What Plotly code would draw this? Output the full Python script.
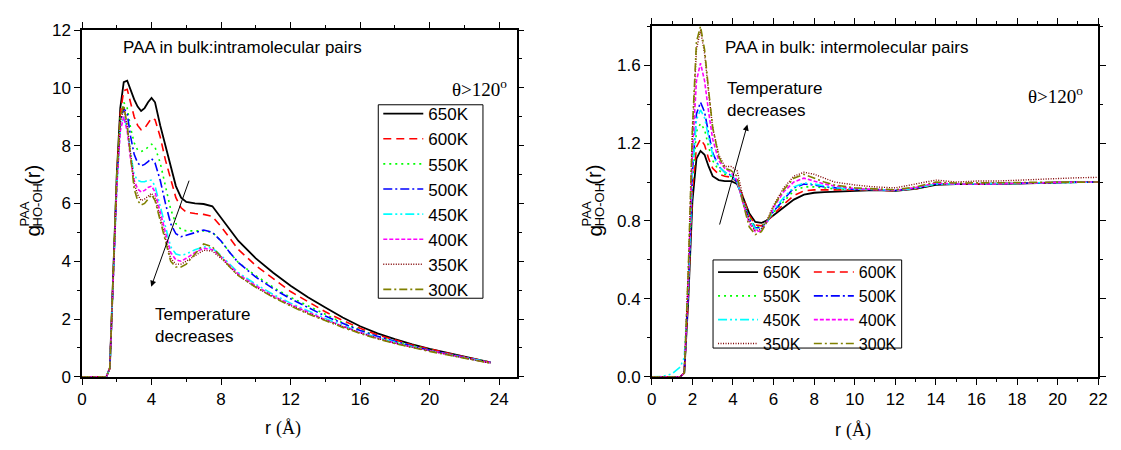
import plotly.graph_objects as go

W, H = 1121, 450

# ---------------- data ----------------
temps = ["650K", "600K", "550K", "500K", "450K", "400K", "350K", "300K"]

r_intra = [0, 1.4, 1.6, 1.8, 2.0, 2.2, 2.4, 2.6, 2.8, 3.0, 3.2, 3.4, 3.6, 3.8, 4.0, 4.2, 4.5, 4.8,
           5.1, 5.4, 5.7, 6.0, 6.5, 7.0, 7.5, 8.0, 8.5, 9.0, 10, 11, 12, 13, 14, 15, 16, 17, 18,
           19, 20, 21, 22, 23, 23.5]

g_intra_650 = [0, 0, 0.3, 3.5, 7.0, 9.3, 10.2, 10.25, 9.9, 9.6, 9.35, 9.2, 9.3, 9.5, 9.65, 9.5, 8.7, 8.0,
               7.2, 6.6, 6.2, 6.05, 6.0, 5.98, 5.9, 5.5, 5.1, 4.7, 4.1, 3.6, 3.15, 2.75, 2.4, 2.05, 1.75, 1.5, 1.3,
               1.12, 0.97, 0.83, 0.7, 0.57, 0.5]
g_intra_600 = [0, 0, 0.3, 3.4, 6.9, 9.1, 9.9, 9.95, 9.5, 9.0, 8.7, 8.55, 8.6, 8.8, 8.95, 8.9, 8.3, 7.5,
               6.8, 6.2, 5.85, 5.7, 5.65, 5.62, 5.55, 5.2, 4.8, 4.4, 3.85, 3.4, 2.95, 2.6, 2.25, 1.95, 1.68, 1.45, 1.27,
               1.1, 0.96, 0.82, 0.69, 0.56, 0.5]
g_intra_550 = [0, 0, 0.3, 3.4, 6.8, 8.9, 9.5, 9.3, 8.6, 8.1, 7.85, 7.8, 7.85, 7.95, 8.05, 7.95, 7.4, 6.6,
               5.8, 5.3, 5.1, 5.05, 5.05, 5.05, 5.0, 4.7, 4.3, 3.95, 3.5, 3.1, 2.75, 2.45, 2.15, 1.87, 1.62, 1.4, 1.22,
               1.07, 0.93, 0.8, 0.67, 0.55, 0.5]
g_intra_500 = [0, 0, 0.3, 3.3, 6.7, 8.8, 9.3, 9.1, 8.3, 7.7, 7.4, 7.3, 7.35, 7.45, 7.55, 7.4, 6.8, 6.0,
               5.3, 4.95, 4.85, 4.9, 5.0, 5.08, 5.0, 4.7, 4.3, 3.95, 3.45, 3.05, 2.7, 2.4, 2.1, 1.85, 1.6, 1.4, 1.22,
               1.06, 0.92, 0.79, 0.67, 0.55, 0.5]
g_intra_450 = [0, 0, 0.3, 3.3, 6.6, 8.6, 9.0, 8.6, 7.7, 7.0, 6.8, 6.75, 6.75, 6.8, 6.8, 6.6, 5.9, 5.1,
               4.5, 4.25, 4.2, 4.25, 4.4, 4.5, 4.45, 4.2, 3.9, 3.6, 3.2, 2.85, 2.55, 2.28, 2.02, 1.78, 1.55, 1.36, 1.19,
               1.04, 0.9, 0.78, 0.66, 0.54, 0.49]
g_intra_400 = [0, 0, 0.3, 3.3, 6.6, 8.5, 9.0, 8.5, 7.5, 6.8, 6.5, 6.4, 6.45, 6.55, 6.6, 6.4, 5.7, 4.9,
               4.3, 4.05, 4.0, 4.1, 4.3, 4.45, 4.4, 4.15, 3.85, 3.55, 3.15, 2.8, 2.5, 2.23, 1.98, 1.75, 1.53, 1.34, 1.17,
               1.03, 0.9, 0.78, 0.66, 0.54, 0.49]
g_intra_350 = [0, 0, 0.3, 3.4, 6.8, 8.8, 9.3, 8.7, 7.6, 6.7, 6.3, 6.1, 6.15, 6.25, 6.35, 6.2, 5.5, 4.7,
               4.1, 3.9, 3.9, 4.0, 4.2, 4.38, 4.35, 4.1, 3.8, 3.5, 3.1, 2.77, 2.47, 2.2, 1.96, 1.73, 1.52, 1.33, 1.16,
               1.02, 0.89, 0.77, 0.65, 0.53, 0.48]
g_intra_300 = [0, 0, 0.3, 3.5, 7.0, 9.0, 9.4, 8.7, 7.5, 6.5, 6.1, 5.95, 6.0, 6.15, 6.3, 6.1, 5.4, 4.6,
               4.0, 3.8, 3.8, 3.9, 4.25, 4.6, 4.5, 4.15, 3.8, 3.5, 3.1, 2.75, 2.45, 2.18, 1.94, 1.71, 1.5, 1.31, 1.15,
               1.01, 0.88, 0.76, 0.64, 0.52, 0.47]

r_inter = [0, 0.5, 1.0, 1.4, 1.6, 1.8, 2.0, 2.2, 2.4, 2.6, 2.8, 3.0, 3.3, 3.6, 3.9, 4.2, 4.5, 4.8, 5.1, 5.4,
           5.7, 6.0, 6.5, 7.0, 7.5, 8.0, 8.5, 9.0, 10, 11, 12, 13, 14, 15, 16, 17, 18, 19, 20, 21, 22]

g_inter_650 = [0, 0, 0, 0, 0.02, 0.4, 0.9, 1.12, 1.16, 1.14, 1.08, 1.03, 1.01, 1.005, 1.005, 0.99, 0.92, 0.84, 0.795, 0.79,
               0.805, 0.83, 0.87, 0.91, 0.935, 0.945, 0.948, 0.95, 0.955, 0.958, 0.955, 0.965, 0.985, 0.99, 0.99, 0.99, 0.992, 0.995, 0.998, 1.0, 1.0]
g_inter_600 = [0, 0, 0, 0, 0.02, 0.42, 0.95, 1.18, 1.22, 1.19, 1.12, 1.07, 1.04, 1.03, 1.025, 1.0, 0.92, 0.83, 0.78, 0.775,
               0.8, 0.835, 0.885, 0.93, 0.955, 0.96, 0.96, 0.96, 0.96, 0.96, 0.955, 0.965, 0.99, 0.99, 0.99, 0.99, 0.993, 0.995, 0.998, 1.0, 1.0]
g_inter_550 = [0, 0, 0, 0, 0.02, 0.44, 1.0, 1.26, 1.30, 1.27, 1.18, 1.11, 1.06, 1.04, 1.03, 1.0, 0.91, 0.82, 0.77, 0.77,
               0.8, 0.845, 0.9, 0.955, 0.975, 0.975, 0.97, 0.965, 0.962, 0.962, 0.956, 0.966, 0.99, 0.99, 0.99, 0.99, 0.993, 0.996, 0.998, 1.0, 1.0]
g_inter_500 = [0, 0, 0, 0, 0.02, 0.45, 1.05, 1.35, 1.41, 1.36, 1.25, 1.15, 1.08, 1.05, 1.035, 1.0, 0.9, 0.81, 0.765, 0.765,
               0.8, 0.85, 0.91, 0.97, 0.99, 0.985, 0.975, 0.97, 0.962, 0.962, 0.957, 0.968, 0.99, 0.99, 0.99, 0.99, 0.993, 0.996, 0.998, 1.0, 1.0]
g_inter_450 = [0, 0.002, 0.015, 0.05, 0.1, 0.47, 1.05, 1.32, 1.37, 1.33, 1.23, 1.14, 1.08, 1.05, 1.035, 1.0, 0.9, 0.81, 0.76, 0.76,
               0.8, 0.855, 0.92, 0.975, 0.995, 0.99, 0.98, 0.972, 0.963, 0.962, 0.957, 0.968, 0.99, 0.99, 0.99, 0.99, 0.993, 0.996, 0.998, 1.0, 1.0]
g_inter_400 = [0, 0, 0, 0, 0.02, 0.5, 1.15, 1.52, 1.61, 1.52, 1.36, 1.22, 1.11, 1.07, 1.05, 1.01, 0.89, 0.79, 0.745, 0.75,
               0.8, 0.87, 0.95, 1.0, 1.02, 1.005, 0.99, 0.98, 0.966, 0.962, 0.958, 0.972, 0.995, 0.99, 0.99, 0.99, 0.994, 0.997, 0.999, 1.0, 1.0]
g_inter_350 = [0, 0, 0, 0, 0.02, 0.55, 1.25, 1.68, 1.78, 1.66, 1.46, 1.28, 1.14, 1.08, 1.08, 1.06, 0.92, 0.8, 0.75, 0.76,
               0.81, 0.88, 0.97, 1.03, 1.05, 1.04, 1.02, 1.0, 0.985, 0.975, 0.97, 0.99, 1.01, 1.0, 1.005, 1.005, 1.01, 1.015, 1.02, 1.022, 1.024]
g_inter_300 = [0, 0, 0, 0, 0.02, 0.56, 1.27, 1.72, 1.80, 1.68, 1.47, 1.28, 1.13, 1.07, 1.06, 1.03, 0.89, 0.77, 0.73, 0.745,
               0.8, 0.875, 0.96, 1.02, 1.04, 1.02, 1.0, 0.985, 0.97, 0.965, 0.96, 0.975, 1.0, 0.995, 0.995, 0.995, 0.997, 0.999, 1.0, 1.0, 1.0]

g_intra = [g_intra_650, g_intra_600, g_intra_550, g_intra_500, g_intra_450, g_intra_400, g_intra_350, g_intra_300]
g_inter = [g_inter_650, g_inter_600, g_inter_550, g_inter_500, g_inter_450, g_inter_400, g_inter_350, g_inter_300]

# ---------------- styles ----------------
colors = ["#000000", "#ff0000", "#00ff00", "#0000ff", "#00ffff", "#ff00ff", "#800000", "#808000"]
dashes = ["solid", "8px,5px", "2px,4px", "9px,3px,2px,3px", "9px,3px,2px,3px,2px,3px", "4px,2px", "1px,1.5px", "8px,3px,2px,3px"]
widths = [1.8, 1.6, 1.6, 1.6, 1.6, 1.6, 1.4, 1.6]

ARIAL = "Arial, Liberation Sans, sans-serif"
TIMES = "Times New Roman, Liberation Serif, serif"


def px(x):
    return x / W


def py(y):
    return 1 - y / H


fig = go.Figure()

for i, t in enumerate(temps):
    fig.add_trace(go.Scatter(
        x=r_intra, y=g_intra[i], mode="lines", name=t, xaxis="x", yaxis="y",
        line=dict(color=colors[i], dash=dashes[i], width=widths[i]),
        legend="legend"))

for i, t in enumerate(temps):
    fig.add_trace(go.Scatter(
        x=r_inter, y=g_inter[i], mode="lines", name=t, xaxis="x2", yaxis="y2",
        line=dict(color=colors[i], dash=dashes[i], width=widths[i]),
        legend="legend2" if i % 2 == 0 else "legend3"))

tickfont = dict(family=ARIAL, size=17, color="black")


def ax(domain, rng, dtick, mdtick, anchor):
    return dict(domain=domain, range=rng, dtick=dtick, tick0=0, ticks="outside", ticklen=6, tickwidth=1.3,
                tickcolor="black", showline=True, linecolor="black", linewidth=1.5, mirror="ticks",
                showgrid=False, zeroline=False, tickfont=tickfont, anchor=anchor,
                minor=dict(dtick=mdtick, tick0=0, ticks="outside", ticklen=3.5, tickwidth=1.2, tickcolor="black",
                           showgrid=False))


xdom1 = [px(78), px(518)]
xdom2 = [px(655), px(1107)]
ydom1 = [py(384), py(22)]
ydom2 = [py(384), py(18)]

layout = dict(
    width=W, height=H, margin=dict(l=0, r=0, t=0, b=0),
    paper_bgcolor="white", plot_bgcolor="white",
    xaxis=ax(xdom1, [0, 25], 4, 2, "y"),
    yaxis=ax(ydom1, [0, 12], 2, 1, "x"),
    xaxis2=ax(xdom2, [0, 22], 2, 1, "y2"),
    yaxis2=ax(ydom2, [0, 1.8], 0.4, 0.2, "x2"),
    legend=dict(x=px(378), y=py(91), xanchor="left", yanchor="top", borderwidth=0,
                bgcolor="rgba(255,255,255,0)", font=dict(family=ARIAL, size=17, color="black"),
                tracegroupgap=0, itemwidth=40),
    legend2=dict(x=px(717), y=py(257), xanchor="left", yanchor="top", borderwidth=0,
                 bgcolor="rgba(255,255,255,0)", font=dict(family=ARIAL, size=16, color="black"), itemwidth=40),
    legend3=dict(x=px(814), y=py(257), xanchor="left", yanchor="top", borderwidth=0,
                 bgcolor="rgba(255,255,255,0)", font=dict(family=ARIAL, size=16, color="black"), itemwidth=40),
    showlegend=True,
)
layout["yaxis2"]["tickformat"] = ".1f"
fig.update_layout(**layout)

# legend frames
fig.add_shape(type="rect", xref="paper", yref="paper", x0=px(378), x1=px(484), y0=py(302), y1=py(100),
              line=dict(color="black", width=1))
fig.add_shape(type="rect", xref="paper", yref="paper", x0=px(717), x1=px(908), y0=py(354), y1=py(262),
              line=dict(color="black", width=1))

ann = []


def text(x, y, s, size=17, family=ARIAL, xanchor="left", yanchor="middle", angle=0):
    ann.append(dict(x=px(x), y=py(y), xref="paper", yref="paper", text=s, showarrow=False,
                    xanchor=xanchor, yanchor=yanchor, textangle=angle, align="left",
                    font=dict(family=family, size=size, color="black")))


text(117, 40, "PAA in bulk:intramolecular pairs")
text(727, 40, "PAA in bulk: intermolecular pairs")
text(451, 82, "θ&gt;120<sup>o</sup>", size=19, family=TIMES)
text(1034, 90, "θ&gt;120<sup>o</sup>", size=19, family=TIMES)
text(150, 330, "Temperature<br>decreases")
text(729, 94, "Temperature<br>decreases")
rstr = 'r <span style="font-family:Times New Roman, Liberation Serif, serif">(Å)</span>'
text(282, 438, rstr, size=18, xanchor="center")
text(859, 440, rstr, size=18, xanchor="center")

# stacked y-axis titles g^PAA_HO-OH(r)
for xc in (28, 597):
    text(xc, 240, "g", size=21, xanchor="center", yanchor="bottom", angle=-90)
    text(xc - 8, 229, "PAA", size=13, xanchor="center", yanchor="bottom", angle=-90)
    text(xc + 5, 229, "HO-OH", size=13, xanchor="center", yanchor="bottom", angle=-90)
    text(xc, 186, "(r)", size=20, xanchor="center", yanchor="bottom", angle=-90)

# arrows
ann.append(dict(x=3.98, y=3.12, ax=6.19, ay=6.84, xref="x", yref="y", axref="x", ayref="y", text="",
                showarrow=True, arrowhead=2, arrowsize=1.2, arrowwidth=1, arrowcolor="black"))
ann.append(dict(x=4.71, y=1.295, ax=3.32, ay=0.774, xref="x2", yref="y2", axref="x2", ayref="y2", text="",
                showarrow=True, arrowhead=2, arrowsize=1.2, arrowwidth=1, arrowcolor="black"))

fig.update_layout(annotations=ann)
fig.write_html("out.html")
